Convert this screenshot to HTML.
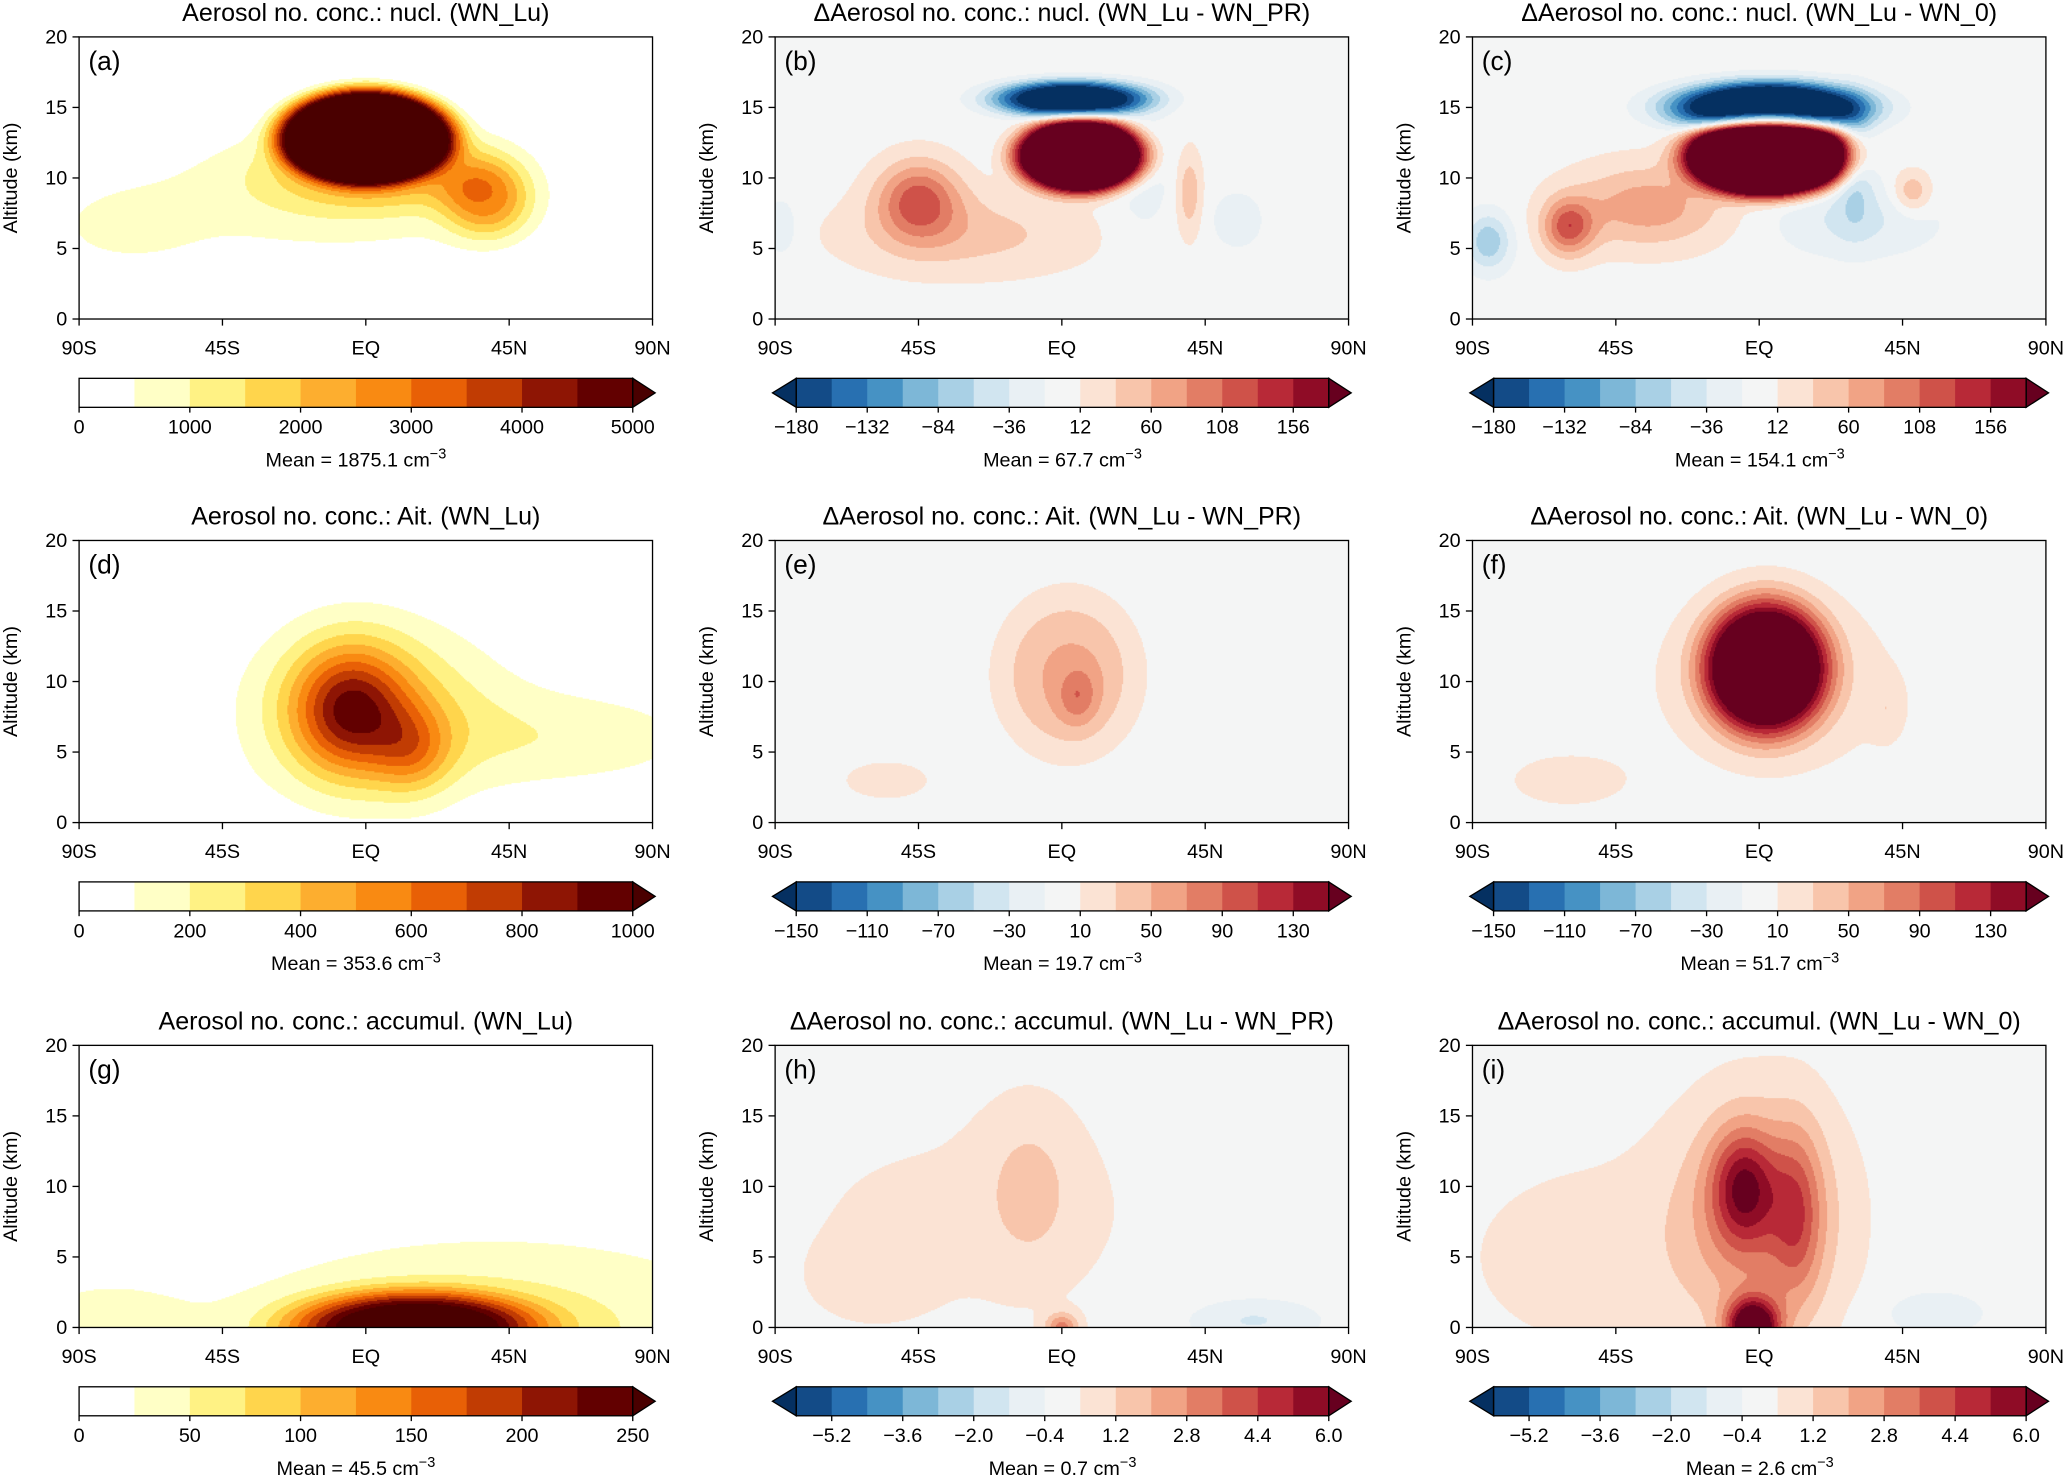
<!DOCTYPE html>
<html><head><meta charset="utf-8">
<style>
html,body{margin:0;padding:0;background:#fff;}
#root{position:absolute;left:0;top:0;width:1568px;height:1120px;transform:scale(1.31824);transform-origin:0 0;font-family:"Liberation Sans","DejaVu Sans",sans-serif;}
canvas{position:absolute;}
svg{position:absolute;left:0;top:0;}
</style></head>
<body>
<div id="root">
<svg id="ov" width="1568" height="1120"></svg>
</div>
<script>
// ---- data ----
const latTicks=['90S','45S','EQ','45N','90N'];
const latTickVals=[-90,-45,0,45,90];
const altTicks=[0,5,10,15,20];
const seqColors=['#ffffff','#ffffc6','#fff284','#ffd54c','#fdae2f','#f98a12','#e86006','#c13c03','#8e1504','#620000'];
const seqOver='#4a0000';
const divColors=['#134b87','#2870b1','#4692c4','#7db7d7','#a9d0e5','#d1e5f0','#e9f0f4','#f4f5f5','#fbe3d4','#f8c5ab','#f1a385','#e27d65','#cf5249','#b82937','#8f0c26'];
const divUnder='#053061', divOver='#67001f';
const titles=['Aerosol no. conc.: nucl. (WN_Lu)','ΔAerosol no. conc.: nucl. (WN_Lu - WN_PR)','ΔAerosol no. conc.: nucl. (WN_Lu - WN_0)',
'Aerosol no. conc.: Ait. (WN_Lu)','ΔAerosol no. conc.: Ait. (WN_Lu - WN_PR)','ΔAerosol no. conc.: Ait. (WN_Lu - WN_0)',
'Aerosol no. conc.: accumul. (WN_Lu)','ΔAerosol no. conc.: accumul. (WN_Lu - WN_PR)','ΔAerosol no. conc.: accumul. (WN_Lu - WN_0)'];
const letters=['(a)','(b)','(c)','(d)','(e)','(f)','(g)','(h)','(i)'];
const means=['1875.1','67.7','154.1','353.6','19.7','51.7','45.5','0.7','2.6'];
const levMin=[0,-180,-180,0,-150,-150,0,-6,-6];
const levStep=[500,24,24,100,20,20,25,0.8,0.8];
const seqLabels1=['0','1000','2000','3000','4000','5000'];
const seqLabels2=['0','200','400','600','800','1000'];
const seqLabels3=['0','50','100','150','200','250'];
const divLabels1=['−180','−132','−84','−36','12','60','108','156'];
const divLabels2=['−150','−110','−70','−30','10','50','90','130'];
const divLabels3=['−5.2','−3.6','−2.0','−0.4','1.2','2.8','4.4','6.0'];
// blobs: [lat, alt, sigmaLat, sigmaAlt, amplitude, power]
const blobsA=[[0,13,27,3.3,9000,2.5],[-10,9,55,4,1100,1],[38,8.5,14,2.8,2300,1.2],[-75,6.5,22,2.5,700,1],[5,11,35,3,1500,1.5]];
const blobsB=[[3,15.6,24,1.3,-260,1.5],[6,11.6,20,2.6,420,2],[-45,8.5,13,2.8,110,1],[-30,6,40,3,45,1],[40,9,4,3,55,1],[55,7,8,2,-30,1],[-88,6.5,5,2,-35,1],[25,10,10,5,-25,1]];
const blobsC=[[3,15,30,1.8,-320,1.5],[3,11.6,25,2.8,520,2],[30,7,25,2.5,-40,1],[-60,6.5,8,2,110,1],[-35,8,25,3,75,1],[-85,5.5,7,2,-80,1],[48,9,6,1.5,60,1],[30,11,6,4,-60,1]];
const blobsD=[[-5,8,18,4.5,650,1],[15,5,12,3,300,1],[3,8,38,6,330,1],[65,6,45,3.5,160,1],[-70,2,30,3,60,1]];
const blobsE=[[2,10.5,21,5.5,52,1.5],[5,9,6,2,40,1],[-55,3,15,1.5,20,1]];
const blobsF=[[2,11,19,4.6,260,1.5],[5,10,35,6,30,1],[-60,3,20,2,20,1],[40,8,5,2,20,1]];
const blobsG=[[15,0,38,2.5,270,1.5],[40,0,85,6.5,60,1],[-85,0,30,4,30,1]];
const blobsH=[[-10,10,15,6,1.1,1],[-30,8,70,8,0.55,1],[0,0,5,1,3,1],[60,0.5,20,1.5,-1.3,1],[-60,3,20,3,0.5,1]];
const blobsI=[[-5,10,10,4,4,1],[12,8,8,6,2.5,1],[0,8,25,8,2.6,1],[-2,0,8,2,8,1],[-50,5,50,8,0.7,1],[55,1,15,1.5,-1.1,1]];
const allBlobs=[blobsA,blobsB,blobsC,blobsD,blobsE,blobsF,blobsG,blobsH,blobsI];

// ---- layout ----
const colX=[60,588,1117], rowY=[28,410,793], PW=435, PH=214;
const NS='http://www.w3.org/2000/svg';
const ov=document.getElementById('ov');
const root=document.getElementById('root');
function el(tag,attrs,parent){const e=document.createElementNS(NS,tag);for(const k in attrs)e.setAttribute(k,attrs[k]);(parent||ov).appendChild(e);return e;}
function txt(x,y,s,size,anchor,parent){const t=el('text',{x:x,y:y,'font-size':size,'text-anchor':anchor||'middle',fill:'#000'},parent);t.textContent=s;return t;}
function xScale(p,lat){return colX[p%3]+(lat+90)/180*PW;}
function yScale(p,alt){return rowY[Math.floor(p/3)]+PH-alt/20*PH;}
function field(blobs,lat,alt){let v=0;for(const b of blobs){const dx=(lat-b[0])/b[2],dy=(alt-b[1])/b[3];v+=b[4]*Math.exp(-Math.pow(dx*dx+dy*dy,b[5]));}return v;}

for(let p=0;p<9;p++){
  const x0=colX[p%3], y0=rowY[Math.floor(p/3)], div=(p%3)!==0;
  const cv=document.createElement('canvas');
  
  
  const S=2;cv.width=PW*S;cv.height=PH*S;cv.style.left=x0+'px';cv.style.top=y0+'px';cv.style.width=PW+'px';cv.style.height=PH+'px';
  root.insertBefore(cv,ov);
  const ctx=cv.getContext('2d');
  const cell=2;
  for(let i=0;i<PW*S;i+=cell){for(let j=0;j<PH*S;j+=cell){
    const lat=-90+(i+cell/2)/(PW*S)*180, alt=20-(j+cell/2)/(PH*S)*20;
    const v=field(allBlobs[p],lat,alt);
    let k=Math.floor((v-levMin[p])/levStep[p]);
    let c;
    if(div){c=k<0?divUnder:(k>=15?divOver:divColors[k]);}
    else{c=k<0?seqColors[0]:(k>=10?seqOver:seqColors[k]);}
    ctx.fillStyle=c;ctx.fillRect(i,j,cell,cell);
  }}
  const g=el('g',{});
  
  
  el('rect',{x:x0,y:y0,width:PW,height:PH,fill:'none',stroke:'#000','stroke-width':1},g);
  const t=txt(x0+PW/2,y0-12,titles[p],19,'middle',g);
  
  
  const lt=txt(x0+7,y0+25,letters[p],20,'start',g);
  
  
  for(let k=0;k<latTickVals.length;k++){
    const xx=xScale(p,latTickVals[k]);
    el('line',{x1:xx,y1:y0+PH,x2:xx,y2:y0+PH+5,stroke:'#000'},g);
    const xl=txt(xx,y0+PH+27,latTicks[k],15,'middle',g);
    
    
  }
  for(const a of altTicks){
    const yy=yScale(p,a);
    el('line',{x1:x0-5,y1:yy,x2:x0,y2:yy,stroke:'#000'},g);
    const yl=txt(x0-9,yy+5,String(a),15,'end',g);
    
    
  }
  const yt=txt(0,0,'Altitude (km)',15,'middle',g);
  yt.setAttribute('transform','translate('+(x0-47)+','+(y0+PH/2)+') rotate(-90)');
  
  
  // colorbar
  const cb=el('g',{},g);
  
  
  const by=y0+259,bh=22;
  let bx0,bx1,n,cols,labels,labOff;
  if(!div){bx0=x0;bx1=x0+420;n=10;cols=seqColors;labels=[seqLabels1,seqLabels2,seqLabels3][Math.floor(p/3)];labOff=0;}
  else{bx0=x0+16;bx1=x0+420;n=15;cols=divColors;labels=[divLabels1,divLabels2,divLabels3][Math.floor(p/3)];labOff=Math.floor(p/3)===2?1:0;}
  const bw=(bx1-bx0)/n;
  for(let k=0;k<n;k++)el('rect',{x:bx0+k*bw,y:by,width:bw+0.5,height:bh,fill:cols[k],stroke:'none'},cb);
  el('polygon',{points:bx1+','+by+' '+(bx1+17)+','+(by+bh/2)+' '+bx1+','+(by+bh),fill:div?divOver:seqOver,stroke:'#000'},cb);
  if(div)el('polygon',{points:bx0+','+by+' '+(bx0-18)+','+(by+bh/2)+' '+bx0+','+(by+bh),fill:divUnder,stroke:'#000'},cb);
  el('rect',{x:bx0,y:by,width:bx1-bx0,height:bh,fill:'none',stroke:'#000'},cb);
  for(let k=0;k<labels.length;k++){
    const xx=bx0+(labOff+2*k)*bw;
    el('line',{x1:xx,y1:by+bh,x2:xx,y2:by+bh+4,stroke:'#000'},cb);
    const cl=txt(xx,y0+301,labels[k],15,'middle',cb);
    
    
  }
  const mt=el('text',{x:(bx0+bx1)/2,y:y0+326,'font-size':15,'text-anchor':'middle'},cb);
  
  
  mt.appendChild(document.createTextNode('Mean = '+means[p]+' cm'));
  const sp=el('tspan',{'font-size':11,dy:-6},mt);sp.textContent='−3';
}
</script>
</body></html>
